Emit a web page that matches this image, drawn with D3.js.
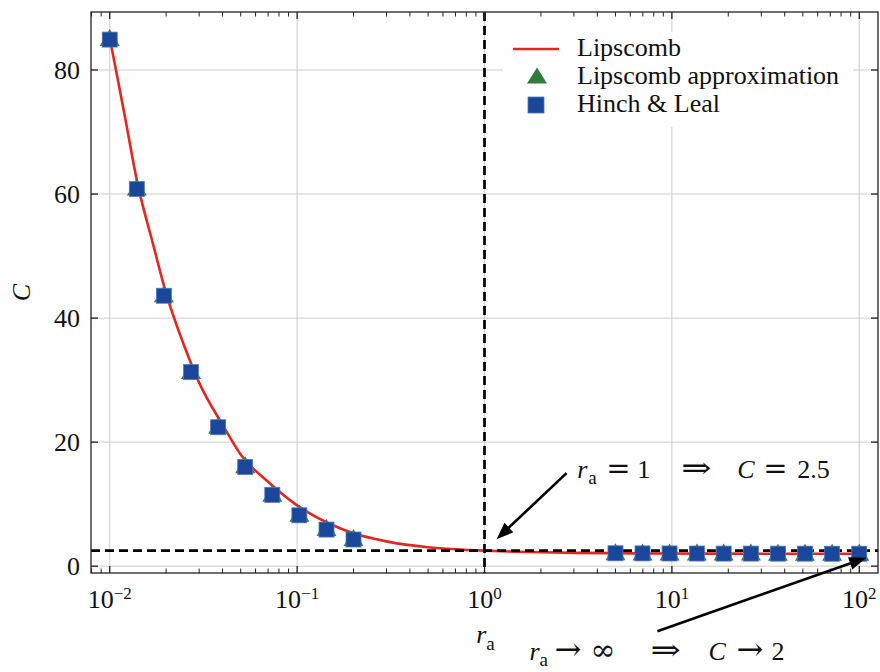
<!DOCTYPE html>
<html>
<head>
<meta charset="utf-8">
<script src="https://cdn.jsdelivr.net/npm/d3@7"></script>
<style>
  html, body { margin: 0; padding: 0; background: #fff; }
  svg { display: block; }
  text { font-family: "Liberation Serif", "DejaVu Serif", serif; fill: #111; }
</style>
</head>
<body>
<svg id="chart" width="880" height="672"></svg>
<script>
// ---------------- data ----------------
const rLow  = [0.01, 0.01395, 0.01946, 0.02715, 0.03788, 0.05284, 0.07372, 0.1028, 0.1435, 0.2];
const rHigh = [5, 6.97, 9.72, 13.6, 18.9, 26.4, 36.8, 51.3, 71.6, 100];
const approxLow  = [85.0, 60.9, 43.7, 31.3, 22.5, 16.1, 11.5, 8.3, 6.0, 4.4];
const approxHigh = [2.08, 2.06, 2.05, 2.04, 2.03, 2.03, 2.02, 2.02, 2.01, 2.01];
const hinchLow   = [84.9, 60.8, 43.6, 31.3, 22.4, 16.0, 11.5, 8.2, 5.9, 4.3];
const hinchHigh  = [2.08, 2.06, 2.05, 2.04, 2.03, 2.03, 2.02, 2.02, 2.01, 2.01];
const rCurve = [0.01, 0.012, 0.014, 0.017, 0.02, 0.025, 0.03, 0.04, 0.05, 0.07, 0.1, 0.15, 0.2, 0.3, 0.5, 0.7, 1, 1.5, 2, 3, 5, 10, 20, 50, 100];
const cCurve = [85.2, 72.8, 62.0, 52.0, 44.0, 35.5, 29.6, 22.8, 18.0, 13.6, 9.8, 6.8, 5.3, 4.0, 3.05, 2.72, 2.5, 2.33, 2.24, 2.15, 2.09, 2.04, 2.02, 2.01, 2.0];
const xMajorTicks = [0.01, 0.1, 1, 10, 100];
const xTickExponents = ["\u22122", "\u22121", "0", "1", "2"];
const yTicks = [0, 20, 40, 60, 80];
const refR = 1;       // vertical dashed line
const refC = 2.5;     // horizontal dashed line
const legendLabels = ["Lipscomb", "Lipscomb approximation", "Hinch & Leal"];
// annotations in data coordinates
const ann1 = { textR: 3.13, textC: 14.2, tailR: 2.74, tailC: 15.0, tipR: 1.16, tipC: 4.35 };
const ann2 = { textR: 1.74, textC: -15.2, tailR: 8.37, tailC: -10.5, tipR: 108.9, tipC: 1.37 };

// ---------------- layout ----------------
const L = 91, T = 12, R = 878, B = 573;
const RED = "#e3261f", GREEN = "#2f7d3b", BLUE = "#1a4799";
const FS = 26;
const SYM = "DejaVu Serif";

const svg = d3.select("#chart");
const x = d3.scaleLog().domain([Math.pow(10, -2.1), Math.pow(10, 2.1)]).range([L, R]);
const y = d3.scaleLinear().domain([-1.1, 89.35]).range([B, T]);

// minor ticks
const minorTicks = [];
[0.001, 0.01, 0.1, 1, 10, 100].forEach(d => {
  for (let k = 2; k <= 9; k++) {
    const v = d * k;
    if (v >= x.domain()[0] && v <= x.domain()[1]) minorTicks.push(v);
  }
});

// grid
const grid = svg.append("g").attr("stroke", "#cccccc").attr("stroke-width", 1);
xMajorTicks.forEach(v => grid.append("line").attr("x1", x(v)).attr("x2", x(v)).attr("y1", T).attr("y2", B));
yTicks.forEach(v => grid.append("line").attr("x1", L).attr("x2", R).attr("y1", y(v)).attr("y2", y(v)));

// curve
const lineGen = d3.line().x(d => x(d[0])).y(d => y(d[1])).curve(d3.curveMonotoneX);
svg.append("path")
  .datum(rCurve.map((r, i) => [r, cCurve[i]]))
  .attr("d", lineGen)
  .attr("fill", "none").attr("stroke", RED).attr("stroke-width", 2.6);

// dashed reference lines
svg.append("line").attr("x1", L).attr("x2", R).attr("y1", y(refC)).attr("y2", y(refC))
  .attr("stroke", "#000").attr("stroke-width", 2.7).attr("stroke-dasharray", "9,5");
svg.append("line").attr("x1", x(refR)).attr("x2", x(refR)).attr("y1", T).attr("y2", B)
  .attr("stroke", "#000").attr("stroke-width", 2.7).attr("stroke-dasharray", "9,5");

// markers
function triPath(cx, cy, w, h) {
  return `M${cx},${cy - h / 2}L${cx + w / 2},${cy + h / 2}L${cx - w / 2},${cy + h / 2}Z`;
}
const rAll = rLow.concat(rHigh);
const approxAll = approxLow.concat(approxHigh);
const hinchAll = hinchLow.concat(hinchHigh);
svg.append("g").selectAll("path").data(rAll.map((r, i) => [r, approxAll[i]])).enter()
  .append("path")
  .attr("d", d => triPath(x(d[0]), y(d[1]) - 1.5, 20, 17))
  .attr("fill", GREEN);
svg.append("g").selectAll("rect").data(rAll.map((r, i) => [r, hinchAll[i]])).enter()
  .append("rect")
  .attr("x", d => x(d[0]) - 7.5).attr("y", d => y(d[1]) - 7.5)
  .attr("width", 15).attr("height", 15)
  .attr("fill", BLUE).attr("stroke", "#4f78bd").attr("stroke-width", 0.8);

// frame and ticks
const ax = svg.append("g").attr("stroke", "#222").attr("stroke-width", 1.3);
ax.append("rect").attr("x", L).attr("y", T).attr("width", R - L).attr("height", B - T).attr("fill", "none");
xMajorTicks.forEach(v => {
  ax.append("line").attr("x1", x(v)).attr("x2", x(v)).attr("y1", B).attr("y2", B - 7);
  ax.append("line").attr("x1", x(v)).attr("x2", x(v)).attr("y1", T).attr("y2", T + 7);
});
minorTicks.forEach(v => {
  ax.append("line").attr("x1", x(v)).attr("x2", x(v)).attr("y1", B).attr("y2", B - 4.5).attr("stroke-width", 1);
  ax.append("line").attr("x1", x(v)).attr("x2", x(v)).attr("y1", T).attr("y2", T + 4.5).attr("stroke-width", 1);
});
yTicks.forEach(v => {
  ax.append("line").attr("x1", L).attr("x2", L + 7).attr("y1", y(v)).attr("y2", y(v));
  ax.append("line").attr("x1", R).attr("x2", R - 7).attr("y1", y(v)).attr("y2", y(v));
});

// tick labels
xMajorTicks.forEach((v, i) => {
  const t = svg.append("text").attr("x", x(v)).attr("y", B + 35)
    .attr("text-anchor", "middle").attr("font-size", FS);
  t.append("tspan").text("10");
  t.append("tspan").attr("font-size", 17).attr("dy", -9).text(xTickExponents[i]);
});
yTicks.forEach(v => {
  svg.append("text").attr("x", L - 11).attr("y", y(v) + 9)
    .attr("text-anchor", "end").attr("font-size", FS).text(v);
});

// axis labels
const xl = svg.append("text").attr("x", (L + R) / 2 + 1).attr("y", 643)
  .attr("text-anchor", "middle").attr("font-size", FS);
xl.append("tspan").attr("font-style", "italic").text("r");
xl.append("tspan").attr("font-size", 19).attr("dy", 7).text("a");
svg.append("text").attr("transform", `translate(30,${(T + B) / 2}) rotate(-90)`)
  .attr("text-anchor", "middle").attr("font-size", FS).attr("font-style", "italic").text("C");

// legend
svg.append("rect").attr("x", 503).attr("y", 32).attr("width", 350).attr("height", 95).attr("fill", "#fff");
svg.append("line").attr("x1", 513).attr("x2", 559).attr("y1", 49).attr("y2", 49)
  .attr("stroke", RED).attr("stroke-width", 2.6);
svg.append("path").attr("d", triPath(537, 75.5, 20, 16)).attr("fill", GREEN);
svg.append("rect").attr("x", 528).attr("y", 97).attr("width", 16).attr("height", 16)
  .attr("fill", BLUE).attr("stroke", "#4f78bd").attr("stroke-width", 0.8);
[56, 83.5, 111.5].forEach((yy, i) => {
  svg.append("text").attr("x", 577).attr("y", yy).attr("font-size", FS).text(legendLabels[i]);
});

// annotations
function arrow(x1, y1, x2, y2) {
  const ang = Math.atan2(y2 - y1, x2 - x1);
  const hl = 17, hw = 6.5;
  const bx = x2 - hl * Math.cos(ang), by = y2 - hl * Math.sin(ang);
  svg.append("line").attr("x1", x1).attr("y1", y1).attr("x2", bx + 2 * Math.cos(ang)).attr("y2", by + 2 * Math.sin(ang))
    .attr("stroke", "#000").attr("stroke-width", 2.6);
  const px = -Math.sin(ang), py = Math.cos(ang);
  svg.append("path")
    .attr("d", `M${x2},${y2}L${bx + hw * px},${by + hw * py}L${bx - hw * px},${by - hw * py}Z`)
    .attr("fill", "#000");
}
function annText(ax0, ay0, parts) {
  const g = svg.append("text").attr("y", ay0).attr("font-size", FS);
  parts.forEach(p => {
    if (p.stretch) {
      svg.append("text")
        .attr("transform", `translate(${ax0 + p.dx},${ay0}) scale(${p.stretch},1)`)
        .style("font-family", SYM).attr("font-size", p.sym).text(p.t);
      return;
    }
    const s = g.append("tspan").attr("x", ax0 + p.dx).attr("y", ay0 + (p.sub ? 6 : 0)).text(p.t);
    if (p.it) s.attr("font-style", "italic");
    if (p.sub) s.attr("font-size", 19);
    if (p.sym) s.style("font-family", SYM).attr("font-size", p.sym);
  });
}
arrow(x(ann1.tailR), y(ann1.tailC), x(ann1.tipR), y(ann1.tipC));
annText(x(ann1.textR), y(ann1.textC), [
  { t: "r", dx: 0, it: true }, { t: "a", dx: 11, sub: true },
  { t: "=", dx: 29, sym: 29 }, { t: "1", dx: 60 },
  { t: "\u21D2", dx: 104, sym: 30, stretch: 1.2 },
  { t: "C", dx: 160, it: true }, { t: "=", dx: 186, sym: 29 }, { t: "2.5", dx: 220 }
]);
arrow(x(ann2.tailR), y(ann2.tailC), x(ann2.tipR), y(ann2.tipC));
annText(x(ann2.textR), y(ann2.textC), [
  { t: "r", dx: 0, it: true }, { t: "a", dx: 10, sub: true },
  { t: "\u2192", dx: 25, sym: 32 }, { t: "\u221E", dx: 61, sym: 30 },
  { t: "\u21D2", dx: 121, sym: 30, stretch: 1.2 },
  { t: "C", dx: 179, it: true }, { t: "\u2192", dx: 207, sym: 32 }, { t: "2", dx: 242 }
]);
</script>
</body>
</html>
